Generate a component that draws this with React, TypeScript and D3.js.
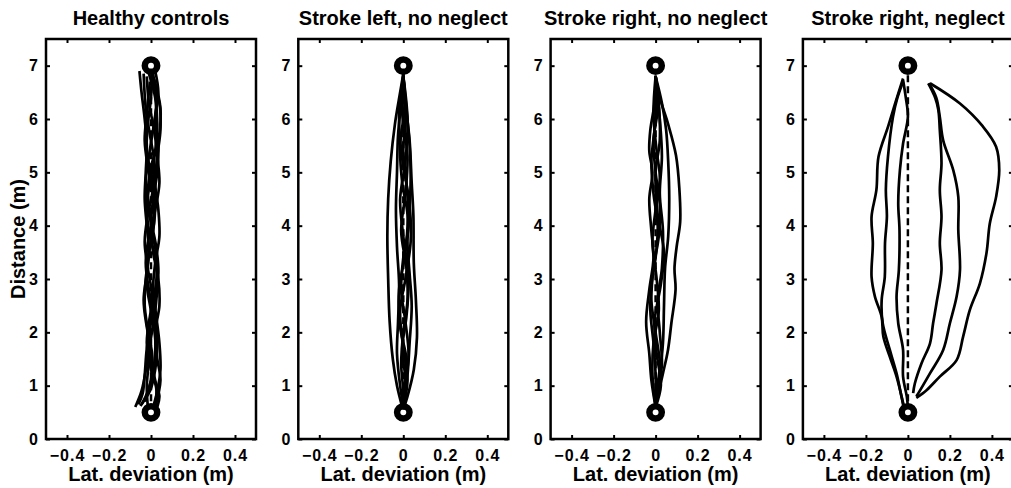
import { useEffect, useRef } from 'react';
import * as d3 from 'd3';

type Pt = [number, number]; // [lateral deviation, distance]

const titles = ['Healthy controls', 'Stroke left, no neglect', 'Stroke right, no neglect', 'Stroke right, neglect'];
const xTicks = [-0.4, -0.2, 0, 0.2, 0.4];
const xTickLabels = ['\u22120.4', '\u22120.2', '0', '0.2', '0.4'];
const yTicks = [0, 1, 2, 3, 4, 5, 6, 7];
const startDist = 0.5;
const targetDist = 7;

const healthy: Pt[][] = [
  [[-0.055, 6.9], [-0.045, 6.5], [-0.03, 6.0], [-0.02, 5.5], [-0.025, 5.0], [-0.03, 4.5], [-0.02, 4.0], [-0.01, 3.5], [-0.025, 3.0], [-0.03, 2.5], [-0.015, 2.0], [-0.01, 1.5], [-0.02, 1.0], [-0.015, 0.6]],
  [[-0.01, 6.85], [0.02, 6.4], [0.03, 5.9], [0.02, 5.4], [0.0, 4.9], [-0.02, 4.4], [-0.01, 3.9], [0.02, 3.4], [0.03, 2.9], [0.02, 2.4], [0.0, 1.9], [-0.02, 1.4], [-0.045, 0.9], [-0.075, 0.6]],
  [[0.0, 6.8], [0.04, 6.3], [0.045, 5.8], [0.03, 5.3], [0.02, 4.8], [0.035, 4.3], [0.04, 3.8], [0.02, 3.3], [0.01, 2.8], [0.025, 2.3], [0.04, 1.8], [0.045, 1.3], [0.03, 0.9], [0.01, 0.6]],
  [[0.005, 6.9], [0.0, 6.4], [-0.015, 5.9], [-0.02, 5.4], [0.005, 4.9], [0.02, 4.4], [0.01, 3.9], [-0.015, 3.4], [-0.02, 2.9], [0.0, 2.4], [0.02, 1.9], [0.015, 1.4], [-0.01, 0.95], [-0.03, 0.7]],
  [[0.01, 6.85], [0.025, 6.3], [0.01, 5.8], [-0.01, 5.3], [-0.025, 4.8], [-0.01, 4.3], [0.01, 3.8], [0.03, 3.3], [0.02, 2.8], [-0.005, 2.3], [-0.02, 1.8], [0.0, 1.3], [0.025, 0.95], [0.02, 0.6]],
  [[-0.02, 6.8], [-0.01, 6.3], [0.015, 5.8], [0.03, 5.3], [0.04, 4.8], [0.02, 4.3], [-0.01, 3.8], [-0.025, 3.3], [-0.01, 2.8], [0.015, 2.3], [0.03, 1.8], [0.02, 1.3], [-0.005, 0.9], [-0.045, 0.65]],
  [[0.015, 6.75], [0.045, 6.2], [0.035, 5.6], [0.0, 5.1], [-0.015, 4.6], [0.0, 4.1], [0.025, 3.6], [0.035, 3.1], [0.015, 2.6], [-0.01, 2.1], [-0.005, 1.6], [0.02, 1.1], [0.04, 0.8], [0.03, 0.6]],
  [[-0.035, 6.85], [-0.025, 6.2], [-0.005, 5.7], [0.015, 5.2], [0.01, 4.7], [-0.015, 4.2], [-0.03, 3.7], [-0.015, 3.2], [0.005, 2.7], [0.0, 2.2], [-0.02, 1.7], [-0.03, 1.2], [-0.04, 0.85], [-0.06, 0.65]],
  [[0.02, 6.9], [0.035, 6.5], [0.02, 6.0], [0.035, 5.5], [0.03, 5.0], [0.01, 4.5], [0.0, 4.0], [0.01, 3.5], [0.035, 3.0], [0.04, 2.5], [0.02, 2.0], [0.03, 1.5], [0.045, 1.1], [0.02, 0.6]],
  [[-0.005, 6.7], [-0.02, 6.1], [-0.03, 5.6], [-0.015, 5.1], [0.01, 4.6], [0.015, 4.1], [-0.005, 3.6], [-0.02, 3.1], [-0.035, 2.6], [-0.02, 2.1], [0.005, 1.6], [0.0, 1.1], [-0.025, 0.8], [-0.05, 0.62]],
];

const strokeLeft: Pt[][] = [
  [[0, 6.85], [-0.015, 6.5], [-0.04, 5.9], [-0.06, 5.2], [-0.072, 4.5], [-0.076, 3.8], [-0.072, 3.0], [-0.065, 2.2], [-0.05, 1.5], [-0.03, 1.0], [-0.005, 0.6]],
  [[0, 6.85], [0.01, 6.3], [0.03, 5.6], [0.04, 4.8], [0.048, 4.2], [0.05, 3.3], [0.06, 2.6], [0.065, 1.9], [0.05, 1.3], [0.02, 0.8], [0, 0.55]],
  [[0, 6.85], [-0.01, 6.3], [-0.025, 5.7], [-0.03, 5.0], [-0.035, 4.3], [-0.03, 3.6], [-0.02, 2.9], [-0.025, 2.2], [-0.03, 1.6], [-0.015, 1.0], [0, 0.6]],
  [[0, 6.8], [0.015, 6.2], [0.03, 5.5], [0.035, 4.9], [0.03, 4.3], [0.02, 3.7], [0.03, 3.1], [0.04, 2.5], [0.03, 1.8], [0.02, 1.2], [0, 0.6]],
  [[0, 6.8], [0.01, 6.0], [0.0, 5.4], [0.015, 4.8], [0.025, 4.0], [0.0, 3.4], [-0.01, 2.8], [0.01, 2.2], [0.025, 1.6], [0.01, 1.0], [0, 0.6]],
  [[0, 6.8], [-0.005, 6.1], [0.02, 5.3], [0.01, 4.6], [-0.01, 3.9], [0.015, 3.2], [0.02, 2.6], [0.0, 2.0], [-0.01, 1.4], [0.0, 0.9], [0, 0.6]],
  [[0, 6.8], [0.02, 6.0], [0.01, 5.2], [-0.015, 4.5], [0.0, 3.8], [0.025, 3.0], [0.015, 2.3], [-0.005, 1.7], [0.01, 1.1], [0, 0.6]],
  [[0, 6.8], [-0.02, 6.1], [-0.01, 5.4], [0.01, 4.9], [0.03, 4.4], [0.035, 3.7], [0.01, 3.0], [-0.015, 2.4], [0.0, 1.7], [0.02, 1.1], [0, 0.6]],
  [[0, 6.8], [0.005, 6.2], [-0.015, 5.5], [-0.005, 4.8], [0.02, 4.2], [0.01, 3.5], [-0.02, 2.8], [-0.015, 2.1], [0.015, 1.5], [0.01, 1.0], [0, 0.6]],
];

const strokeRight: Pt[][] = [
  [[0, 6.8], [0.02, 6.4], [0.06, 5.9], [0.097, 5.32], [0.113, 4.7], [0.117, 4.07], [0.1, 3.6], [0.09, 3.2], [0.095, 2.8], [0.075, 2.17], [0.059, 1.67], [0.035, 1.23], [0.01, 0.8], [0, 0.6]],
  [[0, 6.8], [0.03, 6.3], [0.05, 5.8], [0.06, 5.2], [0.065, 4.5], [0.06, 3.8], [0.045, 3.2], [0.04, 2.5], [0.035, 1.8], [0.02, 1.2], [0, 0.6]],
  [[0, 6.8], [-0.005, 6.3], [-0.025, 5.8], [-0.03, 5.4], [-0.015, 5.0], [-0.03, 4.5], [-0.02, 3.9], [-0.01, 3.4], [-0.03, 2.8], [-0.045, 2.2], [-0.03, 1.6], [-0.02, 1.1], [0, 0.6]],
  [[0, 6.8], [0.01, 6.2], [-0.01, 5.6], [0.0, 5.0], [0.02, 4.4], [0.015, 3.8], [-0.01, 3.2], [-0.02, 2.6], [0.0, 2.0], [0.02, 1.4], [0.005, 0.9], [0, 0.6]],
  [[0, 6.8], [0.02, 6.0], [0.03, 5.3], [0.02, 4.6], [0.035, 3.9], [0.03, 3.2], [0.01, 2.6], [0.02, 2.0], [0.03, 1.4], [0.01, 0.9], [0, 0.6]],
  [[0, 6.8], [-0.01, 6.1], [0.005, 5.4], [0.02, 4.9], [0.0, 4.3], [-0.015, 3.7], [0.005, 3.0], [0.015, 2.4], [-0.01, 1.8], [-0.015, 1.2], [0, 0.6]],
  [[0, 6.8], [0.015, 6.3], [0.02, 5.6], [0.0, 5.0], [0.01, 4.2], [0.04, 3.5], [0.025, 2.9], [-0.005, 2.2], [0.005, 1.6], [0.025, 1.0], [0, 0.6]],
  [[0, 6.8], [0.0, 6.0], [-0.02, 5.2], [-0.01, 4.6], [0.01, 4.0], [0.0, 3.4], [-0.02, 2.9], [-0.025, 2.4], [-0.01, 1.8], [0.0, 1.2], [0, 0.6]],
];

const strokeNeglect: Pt[][] = [
  [[-0.023, 6.76], [-0.06, 6.3], [-0.094, 5.86], [-0.14, 5.29], [-0.15, 4.67], [-0.173, 4.17], [-0.167, 3.67], [-0.173, 3.04], [-0.157, 2.67], [-0.125, 2.29], [-0.117, 1.92], [-0.086, 1.54], [-0.054, 1.17], [-0.03, 0.79], [-0.02, 0.58]],
  [[-0.023, 6.7], [-0.05, 6.4], [-0.071, 6.04], [-0.095, 5.29], [-0.105, 4.67], [-0.1, 4.17], [-0.109, 3.67], [-0.11, 3.04], [-0.125, 2.6], [-0.12, 2.17], [-0.086, 1.67], [-0.054, 1.23], [-0.03, 0.79], [-0.014, 0.54]],
  [[-0.023, 6.73], [-0.01, 6.4], [0.0, 6.04], [-0.023, 5.54], [-0.038, 5.04], [-0.046, 4.42], [-0.04, 3.92], [-0.043, 3.17], [-0.054, 2.67], [-0.046, 2.17], [-0.023, 1.67], [-0.023, 1.17], [-0.005, 0.79], [0.0, 0.6]],
  [[0.097, 6.67], [0.13, 6.4], [0.145, 6.17], [0.152, 5.79], [0.16, 5.17], [0.152, 4.67], [0.16, 4.17], [0.152, 3.67], [0.16, 3.17], [0.136, 2.54], [0.12, 2.17], [0.105, 1.79], [0.065, 1.42], [0.033, 1.04], [0.025, 0.86]],
  [[0.1, 6.67], [0.135, 6.4], [0.152, 6.04], [0.168, 5.6], [0.216, 5.04], [0.24, 4.54], [0.24, 3.92], [0.248, 3.17], [0.232, 2.67], [0.2, 2.17], [0.168, 1.67], [0.105, 1.23], [0.05, 0.86], [0.04, 0.8]],
  [[0.105, 6.67], [0.248, 6.29], [0.357, 5.86], [0.42, 5.48], [0.435, 5.04], [0.42, 4.54], [0.39, 4.04], [0.374, 3.48], [0.343, 2.92], [0.295, 2.42], [0.263, 1.92], [0.232, 1.48], [0.152, 1.17], [0.09, 0.92], [0.04, 0.77]],
];

const panels = [healthy, strokeLeft, strokeRight, strokeNeglect];

const W = 1011;
const H = 488;
const font = '"Liberation Sans", Arial, Helvetica, sans-serif';

export default function App() {
  const svgRef = useRef<SVGSVGElement>(null);

  useEffect(() => {
    if (!svgRef.current) return;
    const root = d3.select(svgRef.current);
    root.selectAll('*').remove();

    const plotW = 210;
    const plotH = 400;
    const top = 39;
    const step = 252.3;
    const left0 = 46;

    const x = d3.scaleLinear().domain([-0.5, 0.5]).range([0, plotW]);
    const y = d3.scaleLinear().domain([0, 7.5]).range([plotH, 0]);
    const line = d3
      .line<Pt>()
      .x((d) => x(d[0]))
      .y((d) => y(d[1]))
      .curve(d3.curveCatmullRom.alpha(0.5));

    panels.forEach((trajs, i) => {
      const g = root.append('g').attr('transform', `translate(${left0 + i * step},${top})`);

      // title
      g.append('text')
        .attr('x', plotW / 2)
        .attr('y', -14)
        .attr('text-anchor', 'middle')
        .style('font-family', font)
        .style('font-weight', 'bold')
        .style('font-size', '20px')
        .text(titles[i]);

      // straight reference path
      g.append('line')
        .attr('x1', x(0))
        .attr('x2', x(0))
        .attr('y1', y(startDist))
        .attr('y2', y(targetDist))
        .attr('stroke', '#000')
        .attr('stroke-width', 2.5)
        .attr('stroke-dasharray', '7,4');

      // start / target markers
      [startDist, targetDist].forEach((d) => {
        g.append('circle')
          .attr('cx', x(0))
          .attr('cy', y(d))
          .attr('r', 6.2)
          .attr('fill', '#fff')
          .attr('stroke', '#000')
          .attr('stroke-width', 6.5);
      });

      g.selectAll('path.traj')
        .data(trajs)
        .enter()
        .append('path')
        .attr('class', 'traj')
        .attr('d', (d) => line(d))
        .attr('fill', 'none')
        .attr('stroke', '#000')
        .attr('stroke-width', 2.7)
        .attr('stroke-linejoin', 'round');

      // axes, ticks pointing inward
      const bottom = g
        .append('g')
        .attr('transform', `translate(0,${plotH})`)
        .call(
          d3.axisBottom(x)
            .tickValues(xTicks)
            .tickSizeInner(-4)
            .tickSizeOuter(0)
            .tickPadding(11)
            .tickFormat((_, k) => xTickLabels[k])
        );
      const topAx = g.append('g').call(d3.axisTop(x).tickValues(xTicks).tickSizeInner(-4).tickSizeOuter(0).tickFormat(() => ''));
      const leftAx = g.append('g').call(
        d3.axisLeft(y)
          .tickValues(yTicks)
          .tickSizeInner(-4)
          .tickSizeOuter(0)
          .tickPadding(7)
          .tickFormat(d3.format('d'))
      );
      const rightAx = g
        .append('g')
        .attr('transform', `translate(${plotW},0)`)
        .call(d3.axisRight(y).tickValues(yTicks).tickSizeInner(-4).tickSizeOuter(0).tickFormat(() => ''));

      [bottom, topAx, leftAx, rightAx].forEach((a) => {
        a.select('.domain').remove();
        a.selectAll('.tick line').attr('stroke', '#000').attr('stroke-width', 2);
        a.selectAll('.tick text')
          .attr('fill', '#000')
          .style('font-family', font)
          .style('font-weight', 'bold')
          .style('font-size', '16px')
          .style('letter-spacing', '1px');
      });

      g.append('rect')
        .attr('width', plotW)
        .attr('height', plotH)
        .attr('fill', 'none')
        .attr('stroke', '#000')
        .attr('stroke-width', 2.5);

      g.append('text')
        .attr('x', plotW / 2)
        .attr('y', plotH + 42)
        .attr('text-anchor', 'middle')
        .style('font-family', font)
        .style('font-weight', 'bold')
        .style('font-size', '20px')
        .text('Lat. deviation (m)');

      if (i === 0) {
        g.append('text')
          .attr('transform', `translate(-21,${plotH / 2}) rotate(-90)`)
          .attr('text-anchor', 'middle')
          .style('font-family', font)
          .style('font-weight', 'bold')
          .style('font-size', '20px')
          .text('Distance (m)');
      }
    });
  }, []);

  return (
    <svg
      ref={svgRef}
      width={W}
      height={H}
      style={{ position: 'absolute', left: 0, top: 0, background: '#fff' }}
    />
  );
}
